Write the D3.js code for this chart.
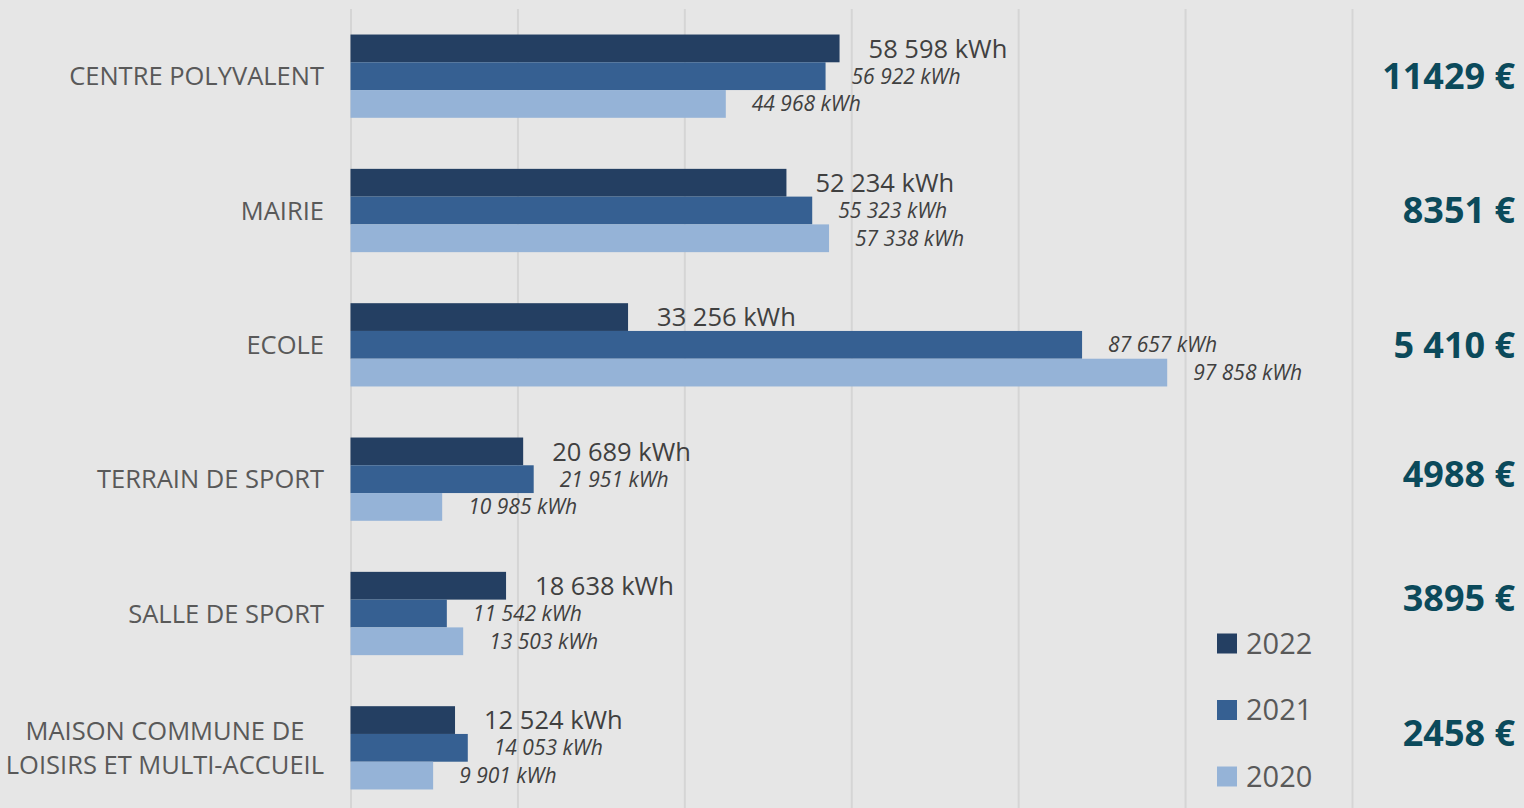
<!DOCTYPE html>
<html>
<head>
<meta charset="utf-8">
<script src="https://cdn.jsdelivr.net/npm/d3@7"></script>
<style>
  html, body { margin: 0; padding: 0; background: #e6e6e6; }
  svg { display: block; }
</style>
</head>
<body>
<svg id="chart" width="1524" height="808"></svg>
<script>
// ---- data ----
const categories = [
  ["CENTRE POLYVALENT"],
  ["MAIRIE"],
  ["ECOLE"],
  ["TERRAIN DE SPORT"],
  ["SALLE DE SPORT"],
  ["MAISON COMMUNE DE", "LOISIRS ET MULTI-ACCUEIL"]
];
const seriesNames = ["2022", "2021", "2020"];
const values2022 = [58598, 52234, 33256, 20689, 18638, 12524];
const values2021 = [56922, 55323, 87657, 21951, 11542, 14053];
const values2020 = [44968, 57338, 97858, 10985, 13503, 9901];
const costLabels = ["11429 €", "8351 €", "5 410 €", "4988 €", "3895 €", "2458 €"];
const xTicks = [0, 20000, 40000, 60000, 80000, 100000, 120000];

// ---- layout / style ----
const W = 1524, H = 808;
const plot = { left: 350.5, right: 1352, top: 9, bottom: 815 };
const colors = { "2022": "#243f62", "2021": "#366092", "2020": "#95b3d7" };
const costNudge = [0, 0, 0, -5, -15, -15];

const series = [values2022, values2021, values2020];
const catKeys = categories.map(c => c.join(" "));

const svg = d3.select("#chart");
svg.append("rect").attr("width", W).attr("height", H).attr("fill", "#e6e6e6");

const x = d3.scaleLinear().domain([0, 120000]).range([plot.left, plot.right]);
const y = d3.scaleBand().domain(catKeys).range([plot.top, plot.bottom])
  .paddingInner(0.38).paddingOuter(0.19);
const ySub = d3.scaleBand().domain(seriesNames).range([0, y.bandwidth()]).padding(0);

const fmt = d3.formatLocale({ decimal: ",", thousands: " ", grouping: [3], currency: ["", ""] }).format(",d");

// gridlines via axis
const grid = svg.append("g").attr("transform", `translate(0,${plot.top})`)
  .call(d3.axisBottom(x).tickValues(xTicks).tickSize(H).tickFormat(""));
grid.select(".domain").remove();
grid.selectAll(".tick line").attr("stroke", "#d5d5d5").attr("stroke-width", 2);

// bars
const groups = svg.append("g").selectAll("g").data(catKeys).join("g")
  .attr("transform", d => `translate(0,${y(d)})`);

seriesNames.forEach((s, si) => {
  groups.append("rect")
    .attr("x", x(0))
    .attr("y", ySub(s))
    .attr("width", (d, i) => x(series[si][i]) - x(0))
    .attr("height", ySub.bandwidth())
    .attr("fill", colors[s]);

  groups.append("text")
    .attr("x", (d, i) => x(series[si][i]) + (si === 0 ? 29 : 26))
    .attr("y", ySub(s) + ySub.bandwidth() / 2)
    .attr("dy", "0.36em")
    .attr("font-family", "'Open Sans', sans-serif")
    .attr("font-size", si === 0 ? 25.5 : 21)
    .attr("font-style", si === 0 ? "normal" : "italic")
    .attr("fill", "#404040")
    .text((d, i) => fmt(series[si][i]) + " kWh");
});

// category labels
const catG = svg.append("g");
categories.forEach((lines, i) => {
  const cy = y(catKeys[i]) + y.bandwidth() / 2;
  const lh = 34;
  const t = catG.append("text")
    .attr("font-family", "'Open Sans', sans-serif")
    .attr("font-size", 25.5)
    .attr("fill", "#595959")
    .attr("text-anchor", "middle");
  lines.forEach((ln, j) => {
    t.append("tspan").attr("x", 0)
      .attr("y", cy + (j - (lines.length - 1) / 2) * lh)
      .attr("dy", "0.36em").text(ln);
  });
  const w = d3.max(t.selectAll("tspan").nodes(), n => n.getComputedTextLength());
  t.selectAll("tspan").attr("x", 324 - w / 2);
});

// cost labels
svg.append("g").selectAll("text").data(costLabels).join("text")
  .attr("x", 1515)
  .attr("y", (d, i) => y(catKeys[i]) + y.bandwidth() / 2 + costNudge[i])
  .attr("dy", "0.36em")
  .attr("text-anchor", "end")
  .attr("font-family", "'Open Sans', sans-serif")
  .attr("font-weight", "bold")
  .attr("font-size", 36)
  .attr("fill", "#0b4a5b")
  .text(d => d);

// legend
const leg = svg.append("g").selectAll("g").data(seriesNames).join("g")
  .attr("transform", (d, i) => `translate(1217,${643.5 + i * 66.5})`);
leg.append("rect").attr("x", 0).attr("y", -10).attr("width", 20).attr("height", 20)
  .attr("fill", d => colors[d]);
leg.append("text").attr("x", 29).attr("y", 0).attr("dy", "0.36em")
  .attr("font-family", "'Open Sans', sans-serif")
  .attr("font-size", 29)
  .attr("fill", "#595959")
  .text(d => d);
</script>
</body>
</html>
